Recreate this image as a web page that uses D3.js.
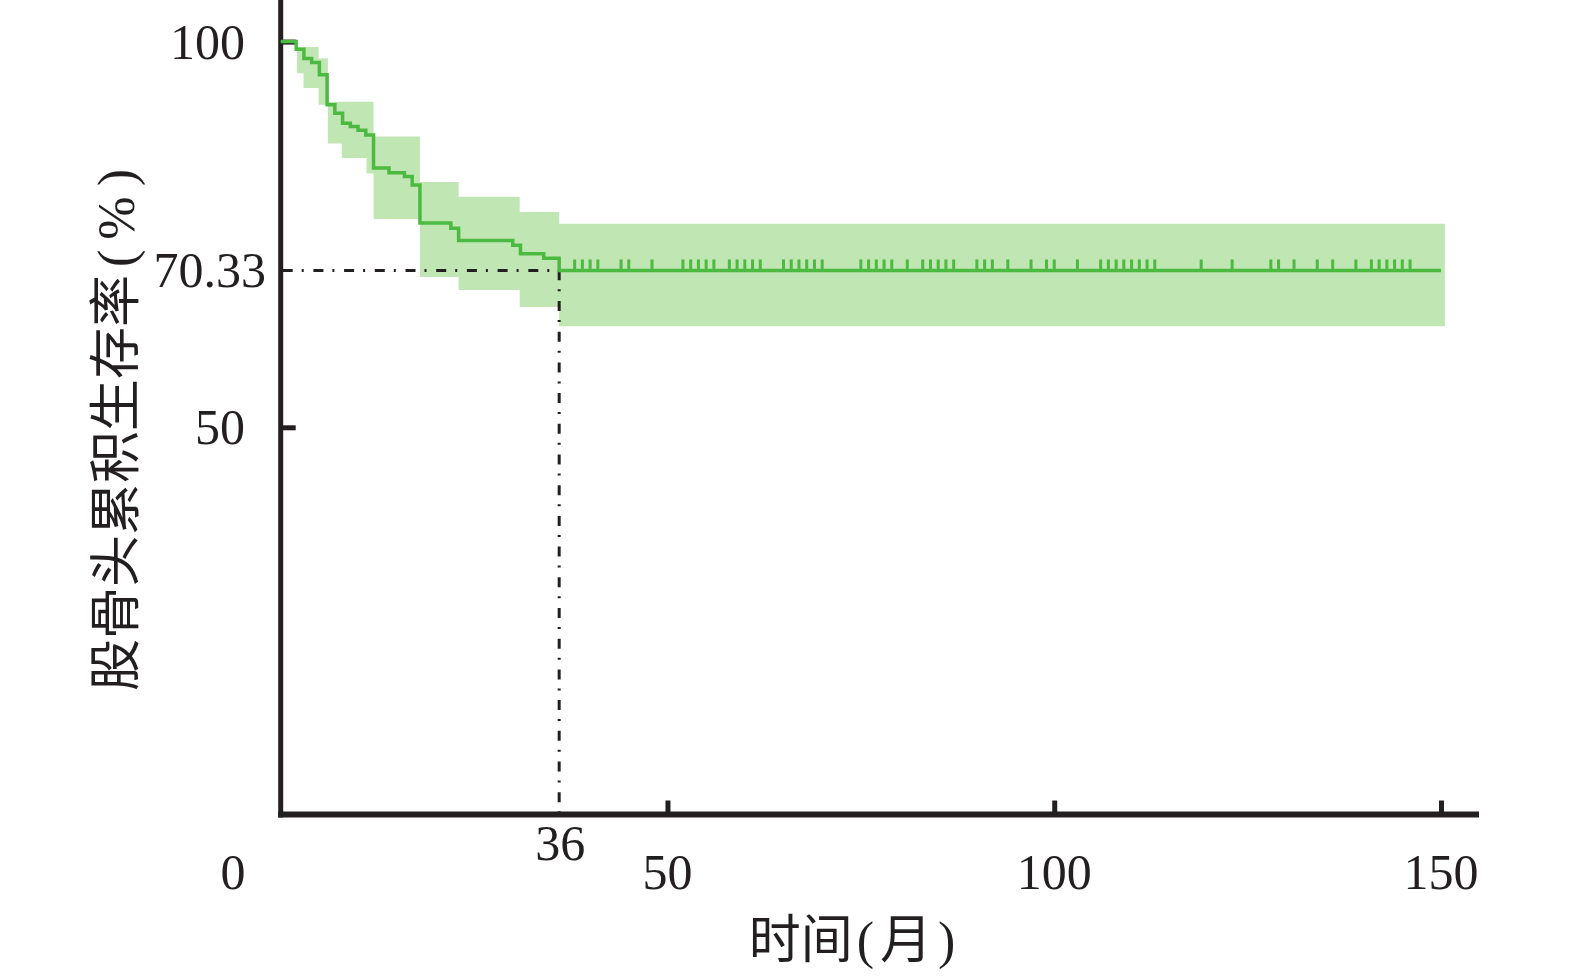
<!DOCTYPE html>
<html><head><meta charset="utf-8">
<script src="https://cdn.jsdelivr.net/npm/d3@7"></script>
<style>
html,body{margin:0;padding:0;background:#fff;}
svg{display:block;}
</style></head>
<body>
<script>
// ---- data ----
const eventTimes = [0, 2, 3, 4, 5, 6, 7, 8, 9, 10, 11, 12, 14, 16, 17, 18, 22, 23, 30, 31, 34, 36];
const survival   = [100, 99.0, 97.8, 97.3, 95.7, 91.8, 90.7, 89.4, 89.0, 88.5, 87.9, 83.6, 83.0, 82.5, 81.4, 76.5, 75.8, 74.2, 73.6, 72.5, 71.9, 70.33];
const bandTimes  = [2.1, 2.95, 4.9, 6.1, 7.9, 11.1, 12.0, 18.0, 23.0, 30.9, 36.0];
const bandLower  = [95.9, 94.0, 91.8, 86.8, 84.9, 82.9, 77.0, 69.5, 67.8, 65.6, 63.1];
const bandUpper  = [99.3, 99.3, 97.8, 92.2, 92.2, 92.2, 87.7, 81.8, 79.9, 77.9, 76.4];
const censorTimes = [38, 39, 40, 41, 44, 45, 48, 52, 53, 54, 55, 56, 58, 59, 60, 61, 62, 65, 66, 67, 68, 69, 70,
  75, 76, 77, 78, 79, 81, 83, 84, 85, 86, 87, 90, 91, 92, 94, 97, 99, 100, 103, 106, 107, 108, 109, 110, 111, 112, 113,
  119, 123, 128, 129, 131, 134, 136, 139, 141, 142, 143, 144, 145, 146];
const endTime = 150;
const bandEnd = 150.5;
const medianTime = 36;
const medianSurv = 70.33;
const xTicks = [50, 100, 150];
const yTicks = [50, 100];
const yTitle = "股骨头累积生存率";
const xTitle = "时间";
const xTitleUnit = "月";

// ---- drawing ----
const W = 1575, H = 979;
const svg = d3.select("body").append("svg").attr("width", W).attr("height", H);
const x = d3.scaleLinear().domain([0, 150]).range([280.7, 1441]);
const y = d3.scaleLinear().domain([0, 100]).range([813, 41.6]);
const ink = "#231f20";
const green = "#4cb940";
const bandCol = "#bfe6b3";
const serif = "'Liberation Serif','Times New Roman',serif";
const cjk = "'Noto Sans CJK SC','Noto Sans CJK JP',sans-serif";

// band
const bandData = bandTimes.map((t, i) => ({t, lo: bandLower[i], hi: bandUpper[i]}));
bandData.push({t: bandEnd, lo: bandLower[bandLower.length - 1], hi: bandUpper[bandUpper.length - 1]});
svg.append("path").datum(bandData)
  .attr("fill", bandCol)
  .attr("d", d3.area().curve(d3.curveStepAfter)
    .x(d => x(d.t)).y0(d => y(d.lo)).y1(d => y(d.hi)));

// median reference dash-dot
svg.append("path")
  .attr("d", d3.line()([[x(0) + 2, y(medianSurv)], [x(medianTime), y(medianSurv)], [x(medianTime), y(0)]]))
  .attr("fill", "none").attr("stroke", ink).attr("stroke-width", 3)
  .attr("stroke-dasharray", "10,9,2,9.7");

// axes
const yAxis = d3.axisRight(y).tickValues(yTicks).tickSize(15).tickFormat("");
const gy = svg.append("g").attr("transform", `translate(${x(0)},0)`).call(yAxis);
gy.select(".domain").remove();
gy.selectAll(".tick line").attr("stroke", ink).attr("stroke-width", 5);
const xAxis = d3.axisTop(x).tickValues(xTicks).tickSize(14).tickFormat("");
const gx = svg.append("g").attr("transform", `translate(0,${y(0) + 1.5})`).call(xAxis);
gx.select(".domain").remove();
gx.selectAll(".tick line").attr("stroke", ink).attr("stroke-width", 5);
svg.append("line").attr("x1", x(0)).attr("x2", x(0)).attr("y1", 0).attr("y2", y(0) + 4.5)
  .attr("stroke", ink).attr("stroke-width", 5);
svg.append("line").attr("x1", x(0) - 2.5).attr("x2", 1479).attr("y1", y(0) + 1.5).attr("y2", y(0) + 1.5)
  .attr("stroke", ink).attr("stroke-width", 6);

// survival line
const survData = eventTimes.map((t, i) => ({t, s: survival[i]}));
survData.push({t: endTime, s: survival[survival.length - 1]});
svg.append("path").datum(survData)
  .attr("fill", "none").attr("stroke", green).attr("stroke-width", 3.5)
  .attr("d", d3.line().curve(d3.curveStepAfter).x(d => x(d.t)).y(d => y(d.s)));

// censor marks
svg.append("g").selectAll("line").data(censorTimes).join("line")
  .attr("x1", d => x(d)).attr("x2", d => x(d))
  .attr("y1", y(medianSurv)).attr("y2", y(medianSurv) - 11)
  .attr("stroke", green).attr("stroke-width", 3);

// tick labels
const fs = 50;
svg.append("g").selectAll("text").data(yTicks).join("text")
  .attr("x", 245).attr("y", d => y(d) + 17)
  .attr("text-anchor", "end").attr("font-family", serif).attr("font-size", fs).attr("fill", ink)
  .text(d => d);
svg.append("text").attr("x", 266).attr("y", y(medianSurv) + 17)
  .attr("text-anchor", "end").attr("font-family", serif).attr("font-size", fs).attr("fill", ink)
  .text(medianSurv.toFixed(2));
svg.append("g").selectAll("text").data(xTicks).join("text")
  .attr("x", d => x(d)).attr("y", 889)
  .attr("text-anchor", "middle").attr("font-family", serif).attr("font-size", fs).attr("fill", ink)
  .text(d => d);
svg.append("text").attr("x", 233).attr("y", 889)
  .attr("text-anchor", "middle").attr("font-family", serif).attr("font-size", fs).attr("fill", ink).text("0");
svg.append("text").attr("x", x(medianTime) + 1).attr("y", 860)
  .attr("text-anchor", "middle").attr("font-family", serif).attr("font-size", fs).attr("fill", ink).text(medianTime);

// y title
const yt = svg.append("text")
  .attr("transform", "translate(134,430) rotate(-90)")
  .attr("text-anchor", "middle").attr("fill", ink).attr("font-size", 52);
yt.append("tspan").attr("font-family", cjk).text(yTitle);
yt.append("tspan").attr("font-family", serif).attr("dx", 8).text("(");
yt.append("tspan").attr("font-family", serif).attr("dx", 10).text("%");
yt.append("tspan").attr("font-family", serif).attr("dx", 10).text(")");

// x title
const xt = svg.append("text").attr("x", 852).attr("y", 958)
  .attr("text-anchor", "middle").attr("fill", ink).attr("font-size", 52);
xt.append("tspan").attr("font-family", cjk).text(xTitle);
xt.append("tspan").attr("font-family", serif).attr("dx", 4).text("(");
xt.append("tspan").attr("font-family", cjk).attr("dx", 6).text(xTitleUnit);
xt.append("tspan").attr("font-family", serif).attr("dx", 6).text(")");
</script>
</body></html>
